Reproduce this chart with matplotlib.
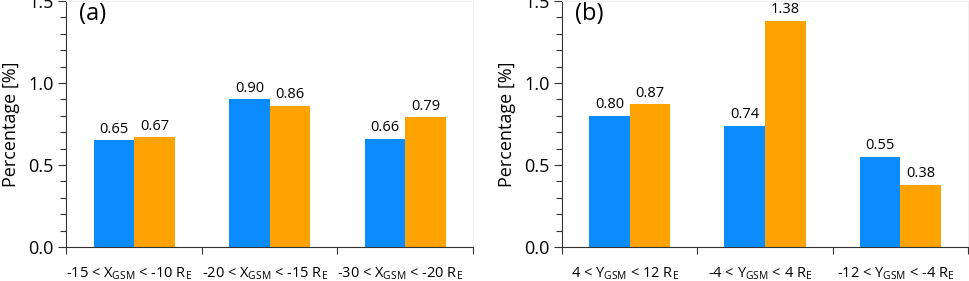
import matplotlib
matplotlib.use("Agg")
import matplotlib.pyplot as plt
import matplotlib.transforms as mtransforms
import numpy as np
from matplotlib.ticker import MultipleLocator

plt.rcParams["font.family"] = ["Open Sans", "DejaVu Sans"]
plt.rcParams["mathtext.fontset"] = "custom"
plt.rcParams["mathtext.rm"] = "Open Sans"

BLUE = "#0a8cff"
ORANGE = "#ffa302"
AXC = "#333333"

# panel (a): X_GSM bins
labels_a = [r"-15 < X$_\mathregular{GSM}$ < -10 R$_\mathregular{E}$",
            r"-20 < X$_\mathregular{GSM}$ < -15 R$_\mathregular{E}$",
            r"-30 < X$_\mathregular{GSM}$ < -20 R$_\mathregular{E}$"]
blue_a = [0.65, 0.90, 0.66]
orange_a = [0.67, 0.86, 0.79]

# panel (b): Y_GSM bins
labels_b = [r"4 < Y$_\mathregular{GSM}$ < 12 R$_\mathregular{E}$",
            r"-4 < Y$_\mathregular{GSM}$ < 4 R$_\mathregular{E}$",
            r"-12 < Y$_\mathregular{GSM}$ < -4 R$_\mathregular{E}$"]
blue_b = [0.80, 0.74, 0.55]
orange_b = [0.87, 1.38, 0.38]

W = 0.3

fig = plt.figure(figsize=(9.69, 2.81), dpi=100)
fig.patch.set_facecolor("white")


def panel(rect, tag, labels, blue, orange):
    ax = fig.add_axes(rect)
    x = np.arange(len(labels))
    b1 = ax.bar(x - W / 2, blue, W, color=BLUE, zorder=2)
    b2 = ax.bar(x + W / 2, orange, W, color=ORANGE, zorder=2)
    for bars, vals in ((b1, blue), (b2, orange)):
        ax.bar_label(bars, labels=[f"{v:.2f}" for v in vals], padding=2.5,
                     fontsize=10.5, color="black")
    ax.set_xlim(-0.5, len(labels) - 0.5)
    ax.set_ylim(0, 1.5)
    ax.yaxis.set_major_locator(MultipleLocator(0.5))
    ax.yaxis.set_minor_locator(MultipleLocator(0.1))
    ax.yaxis.set_major_formatter(matplotlib.ticker.FormatStrFormatter("%.1f"))
    ax.tick_params(axis="y", which="major", length=6, width=0.8, color=AXC,
                   labelsize=13, pad=3)
    ax.tick_params(axis="y", which="minor", length=4, width=0.8, color=AXC)
    ax.set_xticks(x)
    ax.set_xticklabels(labels, fontsize=10.5)
    ax.set_xticks(np.arange(-0.5, len(labels), 1.0), minor=True)
    ax.tick_params(axis="x", which="major", length=0, pad=13)
    ax.tick_params(axis="x", which="minor", length=5, width=0.8, color=AXC)
    off = mtransforms.ScaledTranslation(-5 / 100, 0, fig.dpi_scale_trans)
    for lab in ax.get_xticklabels():
        lab.set_transform(lab.get_transform() + off)
    for s in ("left", "bottom"):
        ax.spines[s].set_color(AXC)
        ax.spines[s].set_linewidth(0.8)
    for s in ("top", "right"):
        ax.spines[s].set_color("#f0f0f0")
        ax.spines[s].set_linewidth(0.8)
    ax.set_ylabel("Percentage [%]", fontsize=13, labelpad=6)
    ax.text(0.031, 0.995, tag, transform=ax.transAxes, ha="left", va="top",
            fontsize=17)
    return ax


panel([0.0686, 0.121, 0.4195, 0.8755], "(a)", labels_a, blue_a, orange_a)
panel([0.580, 0.121, 0.419, 0.8755], "(b)", labels_b, blue_b, orange_b)

fig.savefig("out.png", dpi=100, facecolor="white")
